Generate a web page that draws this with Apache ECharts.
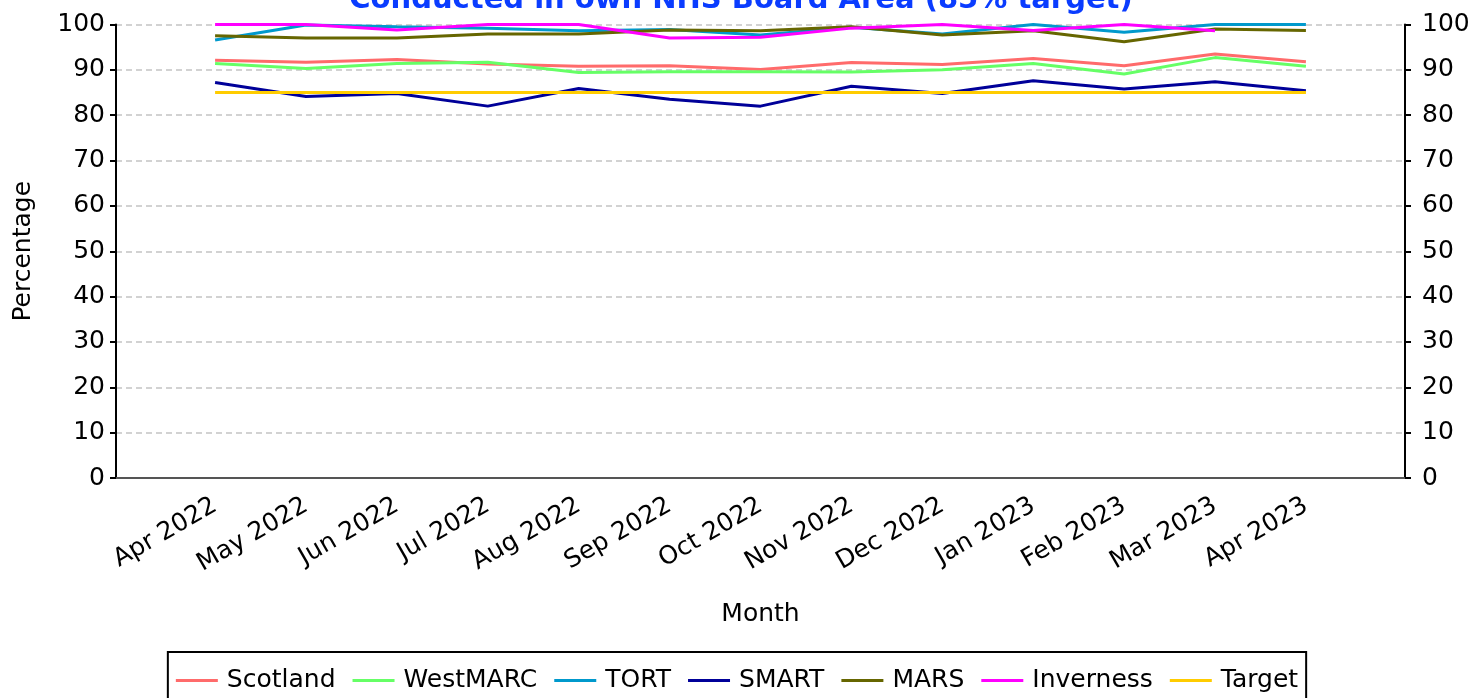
<!DOCTYPE html>
<html><head><meta charset="utf-8">
<script src="https://cdn.jsdelivr.net/npm/echarts@6/dist/echarts.min.js"></script>
<style>html,body{margin:0;padding:0;background:#fff}#c{width:1474px;height:698px}</style>
</head><body><div id="c"></div>
<script>
const months = ['Apr 2022','May 2022','Jun 2022','Jul 2022','Aug 2022','Sep 2022','Oct 2022','Nov 2022','Dec 2022','Jan 2023','Feb 2023','Mar 2023','Apr 2023'];
const scotland  = [92.1, 91.7, 92.3, 91.3, 90.8, 90.9, 90.1, 91.6, 91.2, 92.5, 90.9, 93.5, 91.8];
const westmarc  = [91.4, 90.3, 91.4, 91.7, 89.4, 89.6, 89.6, 89.5, 90.0, 91.4, 89.1, 92.7, 90.8];
const tort      = [96.6, 99.9, 99.5, 99.2, 98.6, 98.9, 97.7, 99.4, 97.9, 100, 98.3, 100, 100];
const smart     = [87.2, 84.1, 84.8, 82.0, 85.9, 83.5, 82.0, 86.4, 84.8, 87.6, 85.8, 87.4, 85.4];
const mars      = [97.5, 97.0, 97.0, 97.9, 97.9, 98.8, 98.6, 99.5, 97.7, 98.6, 96.2, 99.0, 98.7];
const inverness = [100, 100, 98.8, 100, 100, 97.0, 97.2, 99.2, 100, 98.7, 100, 98.6, null];
const target    = [85, 85, 85, 85, 85, 85, 85, 85, 85, 85, 85, 85, 85];

const seriesDefs = [
  ['Scotland', scotland, '#ff6b6b'],
  ['WestMARC', westmarc, '#66ff66'],
  ['TORT', tort, '#0099cc'],
  ['SMART', smart, '#000099'],
  ['MARS', mars, '#666600'],
  ['Inverness', inverness, '#ff00ff'],
  ['Target', target, '#ffcc00']
];
const FONT = 'DejaVu Sans';
const FS = 25;
const yAxisBase = {
  type: 'value', min: 0, max: 100, interval: 10,
  axisLine: {show: true, onZero: false, lineStyle: {color: '#000', width: 2}},
  axisTick: {show: true, length: 6, lineStyle: {color: '#000', width: 2}},
};
const chart = echarts.init(document.getElementById('c'));
chart.setOption({
  animation: false,
  backgroundColor: '#fff',
  title: {
    text: 'Conducted in own NHS Board Area (85% target)',
    left: 736, textAlign: 'center', top: -19,
    textStyle: {fontFamily: FONT, fontSize: 29, fontWeight: 'bold', color: '#0a3cff'}
  },
  grid: {left: 116, right: 69, top: 24.5, bottom: 220, containLabel: false},
  xAxis: {
    type: 'value', min: -1.09, max: 13.09,
    name: 'Month', nameLocation: 'middle', nameGap: 124,
    nameTextStyle: {fontFamily: FONT, fontSize: FS, color: '#000'},
    axisLine: {show: true, onZero: false, lineStyle: {color: '#555', width: 2}},
    axisTick: {show: false},
    splitLine: {show: false},
    axisLabel: {
      customValues: months.map((m, i) => i),
      formatter: v => months[Math.round(v)] || '',
      rotate: 30, fontFamily: FONT, fontSize: FS, color: '#000', margin: 26
    }
  },
  yAxis: [
    Object.assign({}, yAxisBase, {
      position: 'left',
      name: 'Percentage', nameLocation: 'middle', nameGap: 80,
      nameTextStyle: {fontFamily: FONT, fontSize: FS, color: '#000'},
      axisLabel: {fontFamily: FONT, fontSize: FS, color: '#000', margin: 11},
      splitLine: {show: true, lineStyle: {color: '#c4c4c4', type: [6, 4], width: 1.5}}
    }),
    Object.assign({}, yAxisBase, {
      position: 'right', splitLine: {show: false},
      axisLabel: {fontFamily: FONT, fontSize: FS, color: '#000', margin: 17}
    })
  ],
  legend: {
    top: 652, left: 'center',
    data: seriesDefs.map(s => s[0]),
    icon: 'rect',
    itemWidth: 42, itemHeight: 3, itemGap: 17,
    padding: [16, 8, 20, 8],
    borderColor: '#000', borderWidth: 2,
    textStyle: {fontFamily: FONT, fontSize: FS, color: '#000', padding: [0, 0, 0, 4]}
  },
  series: seriesDefs.map(([name, vals, color]) => ({
    name, type: 'line', yAxisIndex: 0,
    data: vals.map((v, i) => [i, v]),
    symbol: 'none', showSymbol: false,
    lineStyle: {color, width: 3},
    itemStyle: {color},
    connectNulls: false
  }))
});
</script></body></html>
